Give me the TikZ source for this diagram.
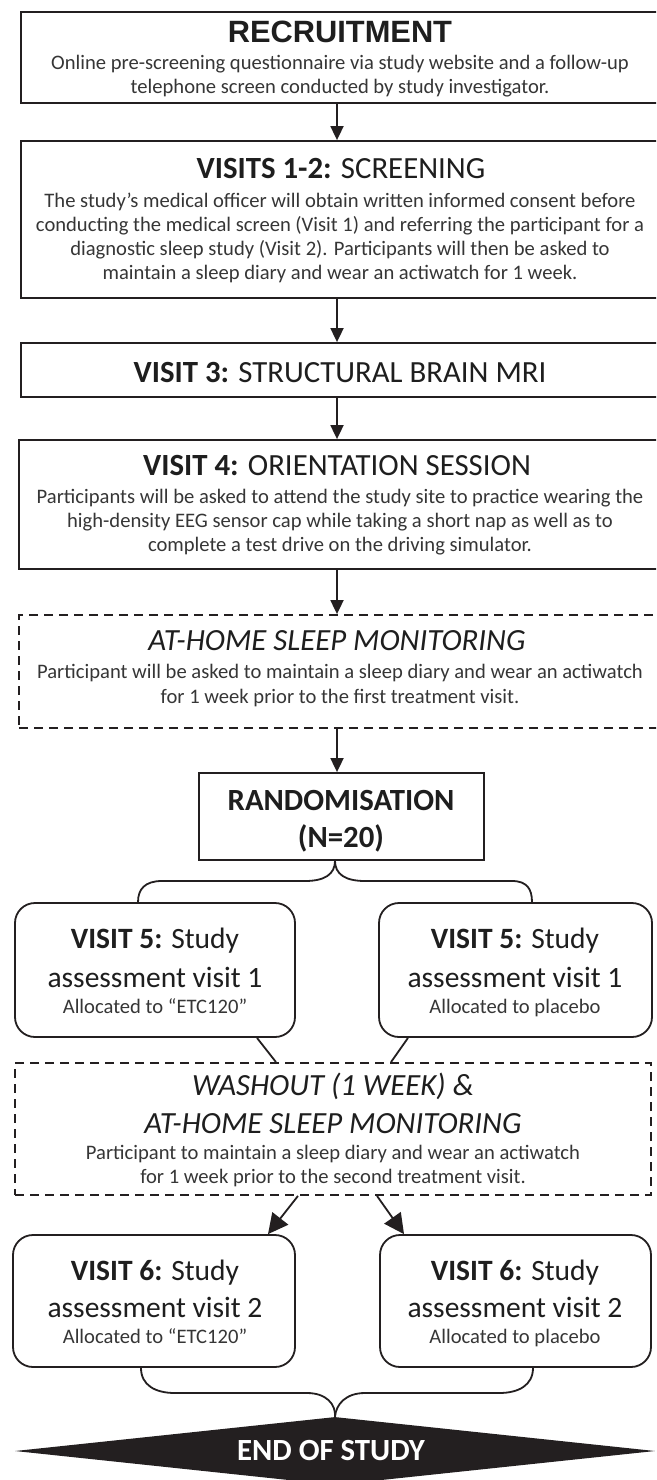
\documentclass[tikz,border=0pt]{standalone}
\usepackage{fontspec}
\setmainfont{Carlito}
\newfontfamily\arialfont{Liberation Sans}
\usetikzlibrary{arrows.meta,shapes.geometric}
\definecolor{ln}{HTML}{231F20}
\definecolor{tx}{HTML}{1E1E1E}
\definecolor{bt}{HTML}{363636}
\tikzset{
  box/.style={draw=ln, line width=1.8pt, rectangle, inner sep=0pt},
  dbox/.style={box, dash pattern=on 9pt off 6pt},
  rbox/.style={box, rounded corners=20pt},
  ttl/.style={font=\fontsize{30.8}{36}\selectfont, text=tx, inner sep=0pt, anchor=base},
  mid/.style={font=\fontsize{29.5}{34}\selectfont, text=tx, inner sep=0pt, anchor=base},
  bdy/.style={font=\fontsize{20.6}{24}\selectfont, text=bt, inner sep=0pt, anchor=base},
  arr/.style={draw=ln, line width=1.8pt, -{Triangle[width=13pt,length=14pt]}},
  bigarr/.style={draw=ln, line width=1.8pt, -{Triangle[width=20pt,length=20pt]}},
  con/.style={draw=ln, line width=1.8pt},
}
\begin{document}
\begin{tikzpicture}[x=1pt,y=-1pt]
\useasboundingbox (0,0) rectangle (656,1480);
\clip (0,0) rectangle (656,1480);
\fill[white] (0,0) rectangle (656,1480);
\coordinate (ax) at (337,0);

% boxes
\node[box, minimum width=639pt, minimum height=91pt] (rec) at (340.5,57.5) {};
\node[box, minimum width=639pt, minimum height=157pt] (scr) at (340.5,219.5) {};
\node[box, minimum width=639pt, minimum height=54pt] (mri) at (340.5,370) {};
\node[box, minimum width=641pt, minimum height=129pt] (ori) at (339.5,504.5) {};
\node[dbox, minimum width=643pt, minimum height=113pt] (home) at (340.5,671.5) {};
\node[box, minimum width=285pt, minimum height=87pt] (rnd) at (341.5,816.5) {};
\node[rbox, minimum width=280pt, minimum height=134pt] (v5l) at (155,970) {};
\node[rbox, minimum width=273pt, minimum height=134pt] (v5r) at (515.5,970) {};
\node[dbox, minimum width=636pt, minimum height=132pt] (wash) at (333,1129) {};
\node[rbox, minimum width=282pt, minimum height=132pt] (v6l) at (154,1301) {};
\node[rbox, minimum width=271pt, minimum height=132pt] (v6r) at (515.5,1301) {};
\node[diamond, fill=ln, inner sep=0pt, aspect=9.4, minimum width=640pt, minimum height=68pt] (endst) at (335,1451) {};

% texts
\node[ttl] (rec-t) at (340,43) {\arialfont\bfseries RECRUITMENT};
\node[bdy] (rec-1) at (340,70) {Online pre-screening questionnaire via study website and a follow-up};
\node[bdy] (rec-2) at (340,93) {telephone screen conducted by study investigator.};

\node[ttl] (scr-t) at (341,178) {\textbf{VISITS 1-2:} SCREENING};
\node[bdy] (scr-1) at (340,207) {The study’s medical officer will obtain written informed consent before};
\node[bdy] (scr-2) at (340,231) {conducting the medical screen (Visit 1) and referring the participant for a};
\node[bdy] (scr-3) at (340,255) {diagnostic sleep study (Visit 2). Participants will then be asked to};
\node[bdy] (scr-4) at (340,279) {maintain a sleep diary and wear an actiwatch for 1 week.};

\node[ttl] (mri-t) at (340,382) {\textbf{VISIT 3:} STRUCTURAL BRAIN MRI};

\node[ttl] (ori-t) at (337,475) {\textbf{VISIT 4:} ORIENTATION SESSION};
\node[bdy] (ori-1) at (340,503) {Participants will be asked to attend the study site to practice wearing the};
\node[bdy] (ori-2) at (340,527) {high-density EEG sensor cap while taking a short nap as well as to};
\node[bdy] (ori-3) at (340,551) {complete a test drive on the driving simulator.};

\node[ttl] (home-t) at (337,650) {\itshape AT-HOME SLEEP MONITORING};
\node[bdy] (home-1) at (340,678) {Participant will be asked to maintain a sleep diary and wear an actiwatch};
\node[bdy] (home-2) at (340,703) {for 1 week prior to the first treatment visit.};

\node[ttl] (rnd-1) at (341,810) {\bfseries RANDOMISATION};
\node[ttl] (rnd-2) at (341,847) {\bfseries (N=20)};

\node[mid] (v5l-1) at (155,948) {\textbf{VISIT 5:} Study};
\node[mid] (v5l-2) at (155,987) {assessment visit 1};
\node[bdy] (v5l-3) at (155,1013) {Allocated to “ETC120”};
\node[mid] (v5r-1) at (515,948) {\textbf{VISIT 5:} Study};
\node[mid] (v5r-2) at (515,987) {assessment visit 1};
\node[bdy] (v5r-3) at (515,1013) {Allocated to placebo};

\node[ttl] (wash-t) at (333,1095) {\itshape WASHOUT (1 WEEK) \&};
\node[ttl] (wash-t2) at (333,1133) {\itshape AT-HOME SLEEP MONITORING};
\node[bdy] (wash-1) at (333,1159) {Participant to maintain a sleep diary and wear an actiwatch};
\node[bdy] (wash-2) at (333,1183) {for 1 week prior to the second treatment visit.};

\node[mid] (v6l-1) at (155,1280) {\textbf{VISIT 6:} Study};
\node[mid] (v6l-2) at (155,1317) {assessment visit 2};
\node[bdy] (v6l-3) at (155,1343) {Allocated to “ETC120”};
\node[mid] (v6r-1) at (515,1280) {\textbf{VISIT 6:} Study};
\node[mid] (v6r-2) at (515,1317) {assessment visit 2};
\node[bdy] (v6r-3) at (515,1343) {Allocated to placebo};

\node[ttl, text=white] (end-t) at (331,1460) {\bfseries END OF STUDY};

% connectors
\draw[arr] (rec.south -| ax) -- (scr.north -| ax);
\draw[arr] (scr.south -| ax) -- (mri.north -| ax);
\draw[arr] (mri.south -| ax) -- (ori.north -| ax);
\draw[arr] (ori.south -| ax) -- (home.north -| ax);
\draw[arr] (home.south -| ax) -- (rnd.north -| ax);

\coordinate (b5l) at (138,0);
\coordinate (b5r) at (532,0);
\coordinate (tip5) at (335,0);
\draw[con] (rnd.south -| tip5) .. controls (335,874) and (325,881) .. (305,881) -- (162,881)
  .. controls (145,881) and (138,889) .. (v5l.north -| b5l);
\draw[con] (rnd.south -| tip5) .. controls (335,874) and (345,881) .. (365,881) -- (512,881)
  .. controls (527,881) and (532,889) .. (v5r.north -| b5r);

\coordinate (l5a) at (257,0);
\coordinate (l5b) at (276,0);
\coordinate (r5a) at (408,0);
\coordinate (r5b) at (391,0);
\draw[con] (v5l.south -| l5a) -- (wash.north -| l5b);
\draw[con] (v5r.south -| r5a) -- (wash.north -| r5b);

\coordinate (w6la) at (298,0);
\coordinate (w6lb) at (268,0);
\coordinate (w6ra) at (377,0);
\coordinate (w6rb) at (404,0);
\draw[bigarr] (wash.south -| w6la) -- (v6l.north -| w6lb);
\draw[bigarr] (wash.south -| w6ra) -- (v6r.north -| w6rb);

\coordinate (b6l) at (141,0);
\coordinate (b6r) at (533,0);
\draw[con] (v6l.south -| b6l) .. controls (141,1385) and (155,1393) .. (175,1393) -- (307,1393)
  .. controls (326,1393) and (336,1404) .. (endst.north);
\draw[con] (v6r.south -| b6r) .. controls (533,1385) and (519,1393) .. (499,1393) -- (365,1393)
  .. controls (346,1393) and (336,1404) .. (endst.north);
\end{tikzpicture}
\end{document}
